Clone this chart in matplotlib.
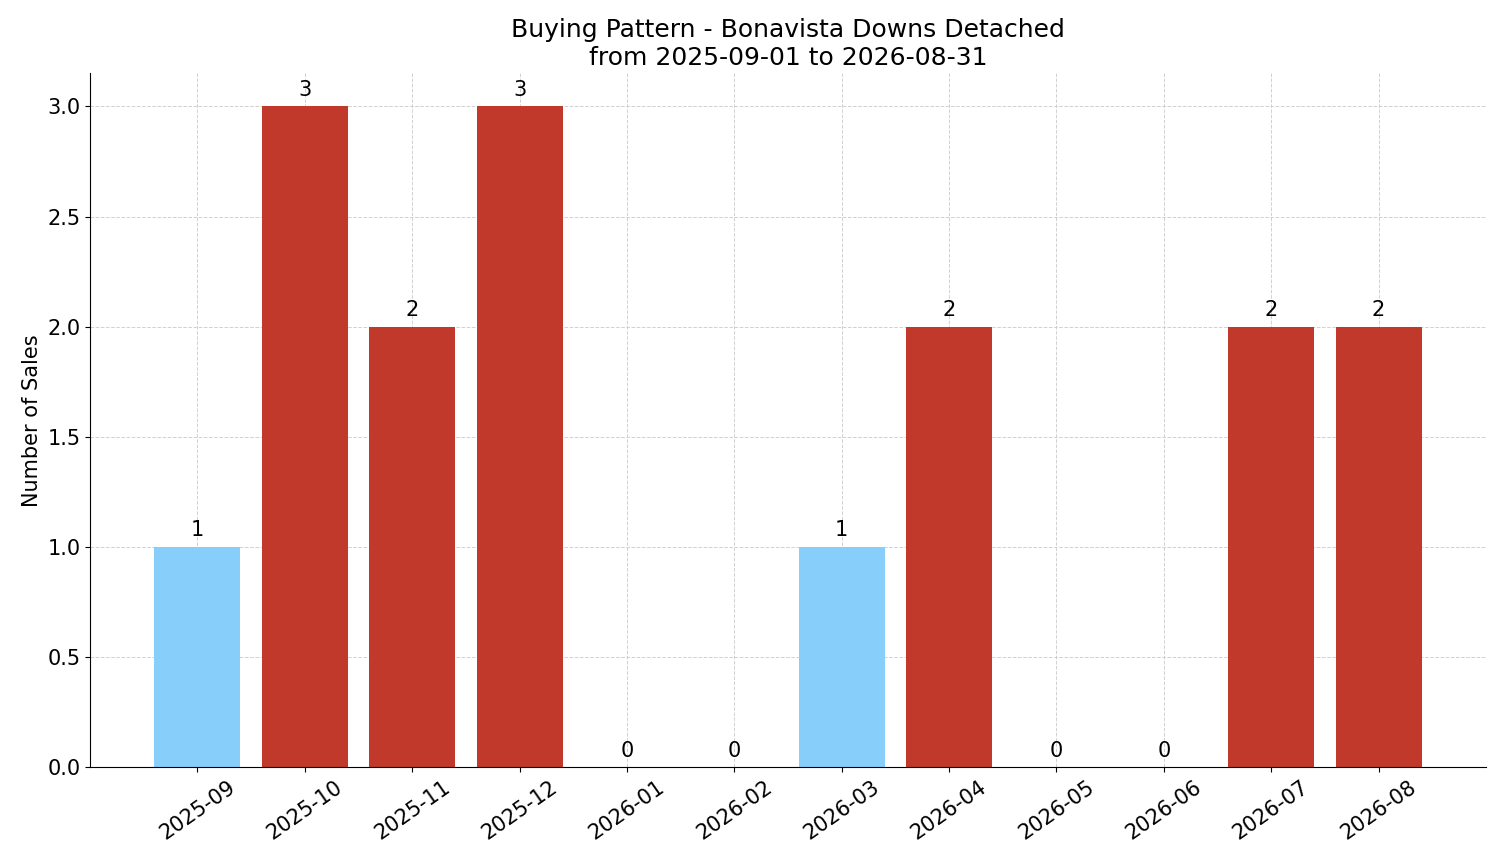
import matplotlib
matplotlib.use("Agg")
import matplotlib.pyplot as plt

months = ["2025-09", "2025-10", "2025-11", "2025-12", "2026-01", "2026-02",
          "2026-03", "2026-04", "2026-05", "2026-06", "2026-07", "2026-08"]
sales = [1, 3, 2, 3, 0, 0, 1, 2, 0, 0, 2, 2]

colors = ["#87CEFA" if v <= 1 else "#C0392B" for v in sales]

fig, ax = plt.subplots(figsize=(15.01, 8.63), dpi=100)
bars = ax.bar(months, sales, color=colors, width=0.8, zorder=2)

for b, v in zip(bars, sales):
    ax.text(b.get_x() + b.get_width() / 2, v + 0.03, str(v),
            ha="center", va="bottom", fontsize=15)

ax.set_title("Buying Pattern - Bonavista Downs Detached\nfrom 2025-09-01 to 2026-08-31",
             fontsize=18)
ax.set_ylabel("Number of Sales", fontsize=15)
ax.set_ylim(0, 3.15)
ax.set_xlim(-1.0, 12.0)
ax.tick_params(axis="both", labelsize=15)
plt.setp(ax.get_xticklabels(), rotation=35, ha="center")
ax.grid(True, linestyle="--", color="#cccccc", linewidth=0.7, alpha=0.9, zorder=0)
ax.set_axisbelow(True)
ax.spines["top"].set_visible(False)
ax.spines["right"].set_visible(False)

fig.subplots_adjust(left=0.06, right=0.99, top=0.915, bottom=0.111)
fig.savefig("out.png", dpi=100)
